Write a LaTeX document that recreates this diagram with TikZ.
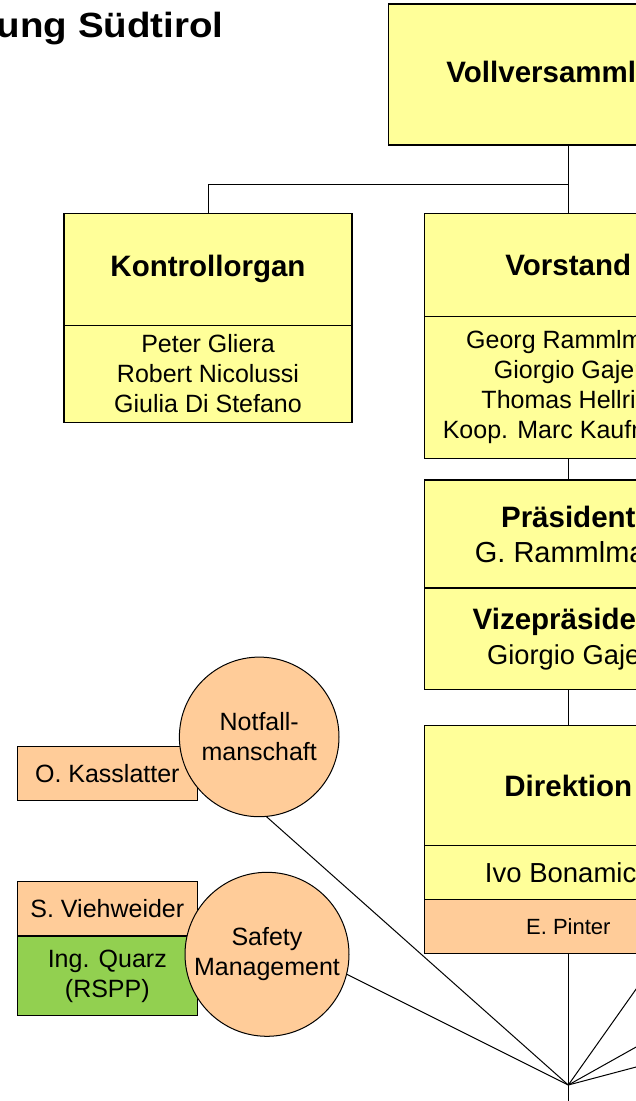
\documentclass[tikz,border=0pt]{standalone}
\usepackage{fontspec}
\setmainfont{Liberation Sans}
\usepackage{graphicx}
\usepackage{tikz}
\usetikzlibrary{positioning}
\definecolor{boxyellow}{RGB}{255,255,153}
\definecolor{boxorange}{RGB}{255,204,153}
\definecolor{boxgreen}{RGB}{146,208,80}
\tikzstyle{box}=[draw, rectangle, line width=1.2pt, outer sep=0pt, inner sep=0pt, align=center, font=\fontsize{25}{30}\selectfont]
\tikzstyle{gremium}=[box, fill=boxyellow, font=\fontsize{29.5}{35}\selectfont\bfseries]
\tikzstyle{names}=[box, fill=boxyellow]
\tikzstyle{staff}=[box, fill=boxorange]
\tikzstyle{team}=[circle, draw, line width=1pt, fill=boxorange, outer sep=0pt, inner sep=0pt, align=center, font=\fontsize{25}{30}\selectfont]

\begin{document}
\begin{tikzpicture}[x=1pt, y=-1pt, line width=1pt]
    \useasboundingbox (0,0) rectangle (636,1101);
    \clip (0,0) rectangle (636,1101);
% Title
    \node[anchor=base east, inner sep=0pt, font=\fontsize{35}{40}\selectfont\bfseries] (title) at (224,37) {\scalebox{1.1}[1]{ung Südtirol}};
% Boards
    \node[gremium, minimum width=360, minimum height=141] (voll) at (568.3,74.5) {Vollversammlung};
    \node[gremium, minimum width=288, minimum height=112] (kontroll) at (208,269.3) {Kontrollorgan};
    \node[names, minimum width=288, minimum height=97, below=0pt of kontroll] (kontrollnames) {Peter Gliera\\Robert Nicolussi\\Giulia Di Stefano};
    \node[gremium, minimum width=288, minimum height=103] (vorstand) at (568.3,264.8) {Vorstand};
    \node[names, minimum width=288, minimum height=142, below=0pt of vorstand] (vorstandnames) {Georg Rammlmair\\Giorgio Gajer\\Thomas Hellrigl\\Koop. Marc Kaufmann};
    \node[gremium, minimum width=288, minimum height=108] (praes) at (568.3,534) {Präsident\\{\mdseries\fontsize{29}{35}\selectfont G. Rammlmair}};
    \node[gremium, minimum width=288, minimum height=101.3, below=0pt of praes] (vize) {Vizepräsident\\{\mdseries\fontsize{27.3}{35}\selectfont Giorgio Gajer}};
    \node[gremium, minimum width=288, minimum height=120] (direktion) at (568.3,785.7) {Direktion};
    \node[names, minimum width=288, minimum height=53.6, font=\fontsize{27.5}{33}\selectfont, below=0pt of direktion] (direktor) {Ivo Bonamico};
    \node[staff, minimum width=288, minimum height=54, font=\fontsize{22}{26}\selectfont, below=0pt of direktor] (pinter) {E. Pinter};
% Teams
    \node[staff, minimum width=180, minimum height=54] (kasslatter) at (107.3,773.7) {O. Kasslatter};
    \node[team, minimum size=159.6] (notfall) at (259.2,736.9) {Notfall-\\manschaft};
    \node[staff, minimum width=180, minimum height=54.3] (viehweider) at (107.3,908.85) {S. Viehweider};
    \node[box, fill=boxgreen, minimum width=180, minimum height=79.7, below=0pt of viehweider] (quarz) {Ing. Quarz\\(RSPP)};
    \node[team, minimum size=164] (safety) at (267,954.3) {Safety\\Management};
% Lines
    \coordinate (branch) at (568.3,184);
    \coordinate (hub) at (568.3,1085);
    \coordinate (down) at (568.3,1120);
    \draw (voll.south) -- (vorstand.north);
    \draw (kontroll.north) |- (branch);
    \draw (vorstandnames.south) -- (praes.north);
    \draw (vize.south) -- (direktion.north);
    \draw (pinter.south) -- (hub) -- (down);
    \draw (notfall.-85) -- (hub);
    \draw (safety.-14) -- (hub);
    \foreach \y [count=\i] in {893,1009,1049} {
        \coordinate (out\i) at (704,\y);
        \draw (hub) -- (out\i);
    }
\end{tikzpicture}
\end{document}
